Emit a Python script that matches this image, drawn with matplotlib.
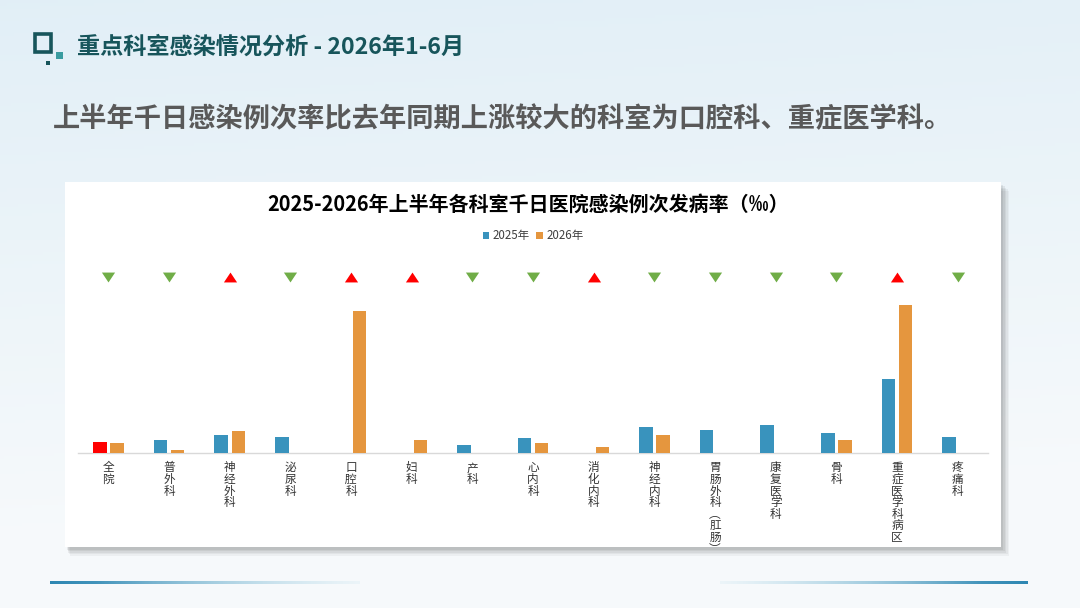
import numpy as np
import matplotlib
matplotlib.use("Agg")
import matplotlib.pyplot as plt
from matplotlib.patches import Rectangle, Patch

plt.rcParams['font.family'] = ['Noto Sans CJK SC', 'DejaVu Sans']

# ---------------- data ----------------
departments = ["全院", "普外科", "神经外科", "泌尿科", "口腔科", "妇科", "产科", "心内科",
               "消化内科", "神经内科", "胃肠外科︵肛肠︶", "康复医学科", "骨科", "重症医学科病区", "疼痛科"]
rate_2025 = [1.13, 1.33, 1.83, 1.60, 0.0, 0.0, 0.80, 1.50, 0.0, 2.60, 2.33, 2.83, 1.97, 7.40, 1.63]
rate_2026 = [1.03, 0.33, 2.20, 0.0, 14.17, 1.33, 0.0, 1.03, 0.60, 1.80, 0.0, 0.0, 1.33, 14.83, 0.0]
series_names = ["2025年", "2026年"]
page_title = "重点科室感染情况分析 - 2026年1-6月"
page_subtitle = "上半年千日感染例次率比去年同期上涨较大的科室为口腔科、重症医学科。"
chart_title = "2025-2026年上半年各科室千日医院感染例次发病率（‰）"

C_BLUE = "#3993BD"
C_ORANGE = "#E5963E"
C_RED = "#FF0000"
C_GREEN = "#70AD47"

W, H = 1080, 608
fig = plt.figure(figsize=(W / 100, H / 100), dpi=100)

# ---------------- background ----------------
bg = fig.add_axes([0, 0, 1, 1], zorder=-10)
bg.set_axis_off()
yy = np.linspace(0, 1, 200)[:, None]
xx = np.linspace(0, 1, 300)[None, :]
top = np.array([0.885, 0.937, 0.968])
bot = np.array([0.965, 0.978, 0.985])
t = np.clip(yy * 1.15 + 0.12 * xx, 0, 1)[..., None]
img = top * (1 - t) + bot * t
bg.imshow(img, extent=[0, 1, 0, 1], aspect='auto', origin='upper')
bg.set_xlim(0, 1); bg.set_ylim(0, 1)

def fx(px):
    return px / W

def fy(py):
    return 1 - py / H

# bottom decorative gradient lines
def grad_line(x0, x1, yc, th, left_strong=True):
    ax_l = fig.add_axes([fx(x0), fy(yc + th / 2), fx(x1 - x0), (th) / H], zorder=-5)
    ax_l.set_axis_off()
    n = 300
    a = np.linspace(1, 0, n) if left_strong else np.linspace(0, 1, n)
    col = np.zeros((1, n, 4))
    base = np.array([0.18, 0.53, 0.70])
    light = np.array([0.70, 0.86, 0.92])
    for i in range(n):
        s = a[i]
        col[0, i, :3] = base * s + light * (1 - s)
        col[0, i, 3] = min(1.0, 0.15 + s * 1.0)
    ax_l.imshow(col, extent=[0, 1, 0, 1], aspect='auto')
    ax_l.set_xlim(0, 1); ax_l.set_ylim(0, 1)

grad_line(50, 360, 582.5, 3.5, True)
grad_line(720, 1028, 582.5, 3.5, False)

# header icon
bg.add_patch(Rectangle((fx(34.5), fy(51.5)), fx(17), 17 / H, fill=False,
                       edgecolor="#17555B", lw=2.6, transform=bg.transAxes))
bg.add_patch(Rectangle((fx(56), fy(59)), fx(7), 7 / H, facecolor="#3A9CA0",
                       edgecolor='none', transform=bg.transAxes))
bg.add_patch(Rectangle((fx(46), fy(65)), fx(4), 4 / H, facecolor="#17555B",
                       edgecolor='none', transform=bg.transAxes))

fig.text(fx(77), fy(47), page_title, fontsize=16.7, fontweight='bold',
         color="#17555B", va='center', ha='left')
fig.text(fx(53), fy(119), page_subtitle, fontsize=19.6, fontweight='bold',
         color="#595959", va='center', ha='left')

# ---------------- card with shadow ----------------
cx0, cy0, cx1, cy1 = 65, 182, 1001, 547
for i, a in enumerate([0.05, 0.06, 0.07, 0.08, 0.09]):
    off = 9 - i * 1.6
    bg.add_patch(Rectangle((fx(cx0 + off * 0.6), fy(cy1 + off)), fx(cx1 - cx0 + off * 0.3), (cy1 - cy0) / H,
                           facecolor='#404040', edgecolor='none', alpha=a, transform=bg.transAxes))
bg.add_patch(Rectangle((fx(cx0), fy(cy1)), fx(cx1 - cx0), (cy1 - cy0) / H,
                       facecolor='white', edgecolor='none', transform=bg.transAxes))

fig.text(fx(528), fy(204), chart_title, fontsize=14.4, fontweight='bold',
         color="black", ha='center', va='center')

# ---------------- chart ----------------
ax_top_px, ax_bot_px = 250, 453
ax = fig.add_axes([fx(78), fy(ax_bot_px), fx(988 - 78), (ax_bot_px - ax_top_px) / H])
ax.patch.set_alpha(0)
x = np.arange(len(departments))
bw = 0.22
colors_2025 = [C_RED if d == "全院" else C_BLUE for d in departments]
ax.bar(x - 0.14, rate_2025, width=bw, color=colors_2025, zorder=3)
ax.bar(x + 0.145, rate_2026, width=bw, color=C_ORANGE, zorder=3)

ax.set_xlim(-0.5, len(departments) - 0.5)
ax.set_ylim(0, (ax_bot_px - ax_top_px) / 10)

marker_level = 17.6
up = np.array(rate_2026) > np.array(rate_2025)
tri_down = [(-1, 0.75), (1, 0.75), (0, -0.75)]
tri_up = [(-1, -0.75), (1, -0.75), (0, 0.75)]
ax.scatter(x[~up], np.full((~up).sum(), marker_level), marker=tri_down, s=90,
           color=C_GREEN, zorder=4, linewidths=0)
ax.scatter(x[up], np.full(up.sum(), marker_level), marker=tri_up, s=90,
           color=C_RED, zorder=4, linewidths=0)

for s in ['left', 'right', 'top']:
    ax.spines[s].set_visible(False)
ax.spines['bottom'].set_color('#D9D9D9')
ax.spines['bottom'].set_linewidth(1.0)
ax.set_yticks([])
ax.set_xticks(x)
ax.set_xticklabels(['\n'.join(d) for d in departments], fontsize=8.4, color='#333333',
                   linespacing=0.86, va='top')
ax.tick_params(axis='x', length=0, pad=6)

handles = [Patch(facecolor=C_BLUE, edgecolor='none'), Patch(facecolor=C_ORANGE, edgecolor='none')]
fig.legend(handles, series_names, loc='center', bbox_to_anchor=(fx(533), fy(236)), ncol=2,
           frameon=False, fontsize=8.3, handlelength=0.6, handleheight=0.6,
           handletextpad=0.3, columnspacing=0.5, labelcolor='#404040')

fig.savefig("out.png", dpi=100)
